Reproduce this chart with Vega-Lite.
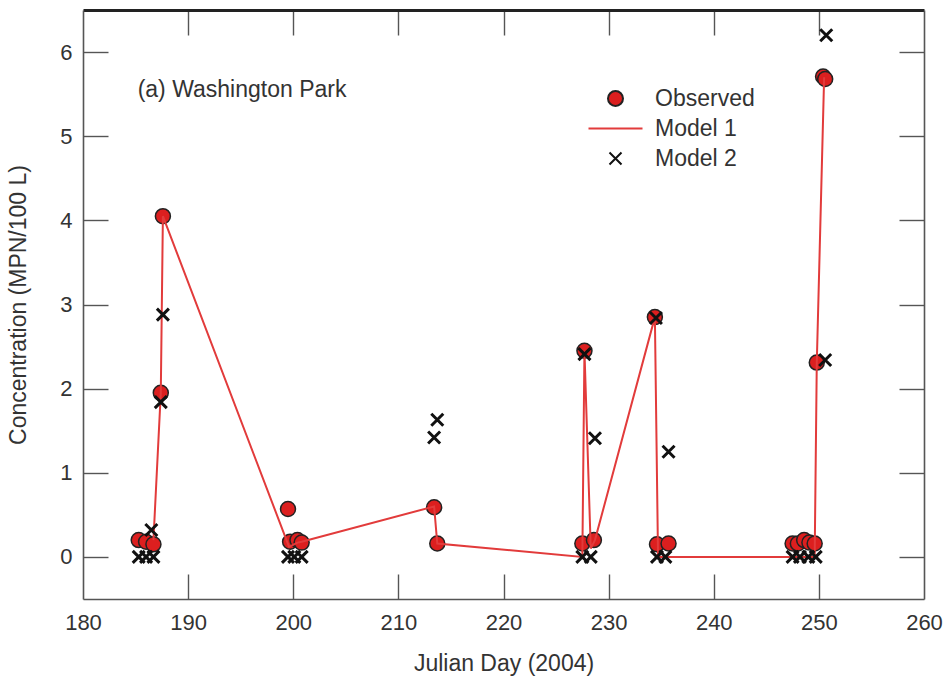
{
  "$schema": "https://vega.github.io/schema/vega-lite/v6.json",
  "width": 841,
  "height": 589,
  "autosize": {"type": "none"},
  "padding": {"left": 83, "top": 10, "right": 25, "bottom": 91},
  "background": "white",
  "config": {
    "view": {"stroke": null},
    "font": "Liberation Sans",
    "axis": {
      "labelFont": "Liberation Sans",
      "labelFontSize": 22,
      "labelColor": "#333333",
      "titleFont": "Liberation Sans",
      "titleFontSize": 23,
      "titleFontWeight": "normal",
      "titleColor": "#333333",
      "tickColor": "#555555",
      "tickWidth": 1.4,
      "domainColor": "#555555",
      "domainWidth": 1.6,
      "labelFlush": false,
      "grid": false
    },
    "legend": {
      "labelFont": "Liberation Sans",
      "labelFontSize": 23,
      "labelColor": "#333333",
      "orient": "none",
      "legendX": 521,
      "legendY": 77,
      "symbolSize": 225,
      "symbolStrokeWidth": 2,
      "labelOffset": 28,
      "rowPadding": 6,
      "padding": 0
    }
  },
  "data": {
    "values": [
      {"day": 185.3, "conc": 0.20, "series": "Observed"},
      {"day": 186.0, "conc": 0.18, "series": "Observed"},
      {"day": 186.7, "conc": 0.15, "series": "Observed"},
      {"day": 187.4, "conc": 1.95, "series": "Observed"},
      {"day": 187.6, "conc": 4.05, "series": "Observed"},
      {"day": 199.5, "conc": 0.57, "series": "Observed"},
      {"day": 199.7, "conc": 0.18, "series": "Observed"},
      {"day": 200.4, "conc": 0.20, "series": "Observed"},
      {"day": 200.8, "conc": 0.17, "series": "Observed"},
      {"day": 213.4, "conc": 0.59, "series": "Observed"},
      {"day": 213.7, "conc": 0.16, "series": "Observed"},
      {"day": 227.5, "conc": 0.16, "series": "Observed"},
      {"day": 227.7, "conc": 2.45, "series": "Observed"},
      {"day": 228.6, "conc": 0.20, "series": "Observed"},
      {"day": 234.4, "conc": 2.85, "series": "Observed"},
      {"day": 234.6, "conc": 0.15, "series": "Observed"},
      {"day": 235.7, "conc": 0.16, "series": "Observed"},
      {"day": 247.5, "conc": 0.16, "series": "Observed"},
      {"day": 248.0, "conc": 0.16, "series": "Observed"},
      {"day": 248.6, "conc": 0.20, "series": "Observed"},
      {"day": 249.1, "conc": 0.17, "series": "Observed"},
      {"day": 249.6, "conc": 0.16, "series": "Observed"},
      {"day": 249.8, "conc": 2.31, "series": "Observed"},
      {"day": 250.4, "conc": 5.71, "series": "Observed"},
      {"day": 250.6, "conc": 5.68, "series": "Observed"},
      {"day": 186.7, "conc": 0.20, "series": "Model 1"},
      {"day": 187.4, "conc": 1.95, "series": "Model 1"},
      {"day": 187.6, "conc": 4.05, "series": "Model 1"},
      {"day": 199.6, "conc": 0.12, "series": "Model 1"},
      {"day": 200.4, "conc": 0.17, "series": "Model 1"},
      {"day": 200.8, "conc": 0.18, "series": "Model 1"},
      {"day": 213.4, "conc": 0.60, "series": "Model 1"},
      {"day": 213.7, "conc": 0.16, "series": "Model 1"},
      {"day": 227.5, "conc": 0.00, "series": "Model 1"},
      {"day": 227.7, "conc": 2.45, "series": "Model 1"},
      {"day": 228.3, "conc": 0.10, "series": "Model 1"},
      {"day": 228.7, "conc": 0.20, "series": "Model 1"},
      {"day": 234.4, "conc": 2.85, "series": "Model 1"},
      {"day": 234.7, "conc": 0.00, "series": "Model 1"},
      {"day": 249.6, "conc": 0.00, "series": "Model 1"},
      {"day": 249.8, "conc": 2.30, "series": "Model 1"},
      {"day": 250.5, "conc": 5.70, "series": "Model 1"},
      {"day": 185.3, "conc": 0.00, "series": "Model 2"},
      {"day": 186.0, "conc": 0.00, "series": "Model 2"},
      {"day": 186.7, "conc": 0.00, "series": "Model 2"},
      {"day": 186.5, "conc": 0.32, "series": "Model 2"},
      {"day": 187.4, "conc": 1.84, "series": "Model 2"},
      {"day": 187.6, "conc": 2.88, "series": "Model 2"},
      {"day": 199.5, "conc": 0.00, "series": "Model 2"},
      {"day": 200.1, "conc": 0.00, "series": "Model 2"},
      {"day": 200.8, "conc": 0.00, "series": "Model 2"},
      {"day": 213.4, "conc": 1.42, "series": "Model 2"},
      {"day": 213.7, "conc": 1.63, "series": "Model 2"},
      {"day": 227.5, "conc": 0.00, "series": "Model 2"},
      {"day": 227.7, "conc": 2.41, "series": "Model 2"},
      {"day": 228.3, "conc": 0.00, "series": "Model 2"},
      {"day": 228.7, "conc": 1.41, "series": "Model 2"},
      {"day": 234.5, "conc": 2.84, "series": "Model 2"},
      {"day": 234.6, "conc": 0.00, "series": "Model 2"},
      {"day": 235.4, "conc": 0.00, "series": "Model 2"},
      {"day": 235.7, "conc": 1.25, "series": "Model 2"},
      {"day": 247.5, "conc": 0.00, "series": "Model 2"},
      {"day": 248.2, "conc": 0.00, "series": "Model 2"},
      {"day": 249.0, "conc": 0.00, "series": "Model 2"},
      {"day": 249.7, "conc": 0.00, "series": "Model 2"},
      {"day": 250.6, "conc": 2.34, "series": "Model 2"},
      {"day": 250.7, "conc": 6.20, "series": "Model 2"}
    ]
  },
  "layer": [
    {
      "transform": [{"filter": "datum.series === 'Observed'"}],
      "mark": {"type": "point", "size": 225, "opacity": 1, "strokeWidth": 1.5},
      "encoding": {
        "x": {"field": "day", "type": "quantitative", "scale": {"domain": [180, 260], "nice": false, "zero": false},
          "axis": {"orient": "bottom", "title": "Julian Day (2004)", "values": [180, 190, 200, 210, 220, 230, 240, 250, 260], "ticks": false, "labelPadding": 13, "titlePadding": 19, "labelFlush": false}},
        "y": {"field": "conc", "type": "quantitative", "scale": {"domain": [-0.5, 6.5], "nice": false, "zero": false},
          "axis": {"orient": "left", "title": "Concentration (MPN/100 L)", "values": [0, 1, 2, 3, 4, 5, 6], "ticks": false, "labelPadding": 11, "titlePadding": 29}},
        "shape": {"field": "series", "type": "nominal", "legend": {"title": null},
          "scale": {"domain": ["Observed", "Model 1", "Model 2"], "range": ["circle", "M-3.6,0L3.6,0", "M-0.8,-0.8L0.8,0.8M0.8,-0.8L-0.8,0.8"]}},
        "fill": {"field": "series", "type": "nominal", "legend": {"title": null},
          "scale": {"domain": ["Observed", "Model 1", "Model 2"], "range": ["#dc1f1f", "transparent", "transparent"]}},
        "stroke": {"field": "series", "type": "nominal", "legend": {"title": null},
          "scale": {"domain": ["Observed", "Model 1", "Model 2"], "range": ["#222222", "#e23b3b", "#111111"]}}
      }
    },
    {
      "transform": [{"filter": "datum.series === 'Model 1'"}],
      "mark": {"type": "line", "strokeWidth": 2},
      "encoding": {
        "x": {"field": "day", "type": "quantitative",
          "axis": {"orient": "bottom", "title": null, "labels": false, "domain": false, "ticks": true, "tickSize": 25, "offset": -25, "tickColor": "#555555", "tickWidth": 1.4, "values": [190, 200, 210, 220, 230, 240, 250]}},
        "y": {"field": "conc", "type": "quantitative",
          "axis": {"orient": "left", "title": null, "labels": false, "domain": false, "ticks": true, "tickSize": 25, "offset": -25, "tickColor": "#555555", "tickWidth": 1.4, "values": [0, 1, 2, 3, 4, 5, 6]}},
        "stroke": {"field": "series", "type": "nominal", "legend": {"title": null}}
      }
    },
    {
      "transform": [{"filter": "datum.series === 'Model 2'"}],
      "mark": {"type": "point", "shape": "M-1,-1L1,1M1,-1L-1,1", "size": 144, "opacity": 1, "strokeWidth": 3},
      "encoding": {
        "x": {"field": "day", "type": "quantitative",
          "axis": {"orient": "top", "title": null, "labels": false, "domain": false, "ticks": true, "tickSize": 25, "offset": -25, "tickColor": "#555555", "tickWidth": 1.4, "values": [190, 200, 210, 220, 230, 240, 250]}},
        "y": {"field": "conc", "type": "quantitative",
          "axis": {"orient": "right", "title": null, "labels": false, "domain": false, "ticks": true, "tickSize": 25, "offset": -25, "tickColor": "#555555", "tickWidth": 1.4, "values": [0, 1, 2, 3, 4, 5, 6]}},
        "fill": {"field": "series", "type": "nominal", "legend": {"title": null}},
        "stroke": {"field": "series", "type": "nominal", "legend": {"title": null}}
      }
    },
    {
      "data": {"values": [{"day": 185.2, "conc": 5.55, "label": "(a) Washington Park"}]},
      "mark": {"type": "text", "align": "left", "baseline": "middle", "fontSize": 23, "font": "Liberation Sans", "color": "#333333"},
      "encoding": {
        "x": {"field": "day", "type": "quantitative",
          "axis": {"orient": "top", "title": null, "labels": false, "ticks": false, "domain": true, "domainColor": "#222222", "domainWidth": 2.8}},
        "y": {"field": "conc", "type": "quantitative",
          "axis": {"orient": "right", "title": null, "labels": false, "ticks": false, "domain": true}},
        "text": {"field": "label"}
      }
    }
  ],
  "resolve": {"axis": {"x": "independent", "y": "independent"}}
}
